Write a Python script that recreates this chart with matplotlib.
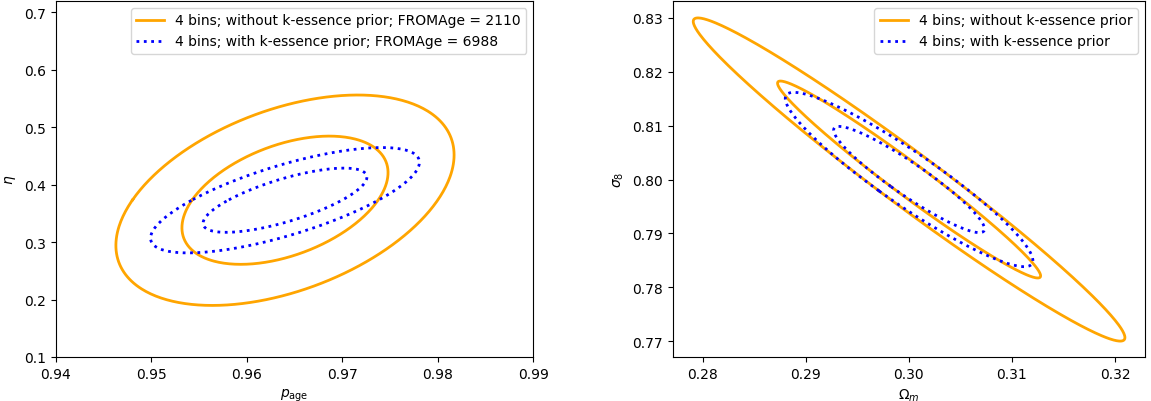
import numpy as np
import matplotlib
matplotlib.use("Agg")
import matplotlib.pyplot as plt

# Fisher-forecast style contours: centre, sigmas and correlation per series
levels = [1.515, 2.486]  # sqrt of chi2 (2 dof) for 68% and 95%

left_center = [0.964, 0.373]
left_without = dict(sx=0.00712, sy=0.0737, rho=0.43)
left_with = dict(sx=0.00566, sy=0.0369, rho=0.72)

right_center = [0.30003, 0.8000]
right_without = dict(sx=0.00842, sy=0.01205, rho=-0.978)
right_with = dict(sx=0.00483, sy=0.0065, rho=-0.93)

label_without_left = "4 bins; without k-essence prior; FROMAge = 2110"
label_with_left = "4 bins; with k-essence prior; FROMAge = 6988"
label_without_right = "4 bins; without k-essence prior"
label_with_right = "4 bins; with k-essence prior"


def ellipse_points(center, p, k, n=400):
    cov = np.array([[p["sx"] ** 2, p["rho"] * p["sx"] * p["sy"]],
                    [p["rho"] * p["sx"] * p["sy"], p["sy"] ** 2]])
    vals, vecs = np.linalg.eigh(cov)
    t = np.linspace(0, 2 * np.pi, n)
    circ = np.vstack([np.cos(t), np.sin(t)])
    pts = vecs @ (np.sqrt(vals)[:, None] * circ) * k
    return pts[0] + center[0], pts[1] + center[1]


def draw(ax, center, params, color, ls, label):
    for i, k in enumerate(levels):
        x, y = ellipse_points(center, params, k)
        ax.plot(x, y, color=color, linestyle=ls, linewidth=2,
                label=label if i == 0 else None)


fig = plt.figure(figsize=(11.51, 4.02), dpi=100)
ax1 = fig.add_axes([0.0484, 0.1095, 0.415, 0.8856])
ax2 = fig.add_axes([0.5844, 0.1095, 0.4103, 0.8856])

draw(ax1, left_center, left_without, "orange", "-", label_without_left)
draw(ax1, left_center, left_with, "blue", ":", label_with_left)
ax1.set_xlim(0.94, 0.99)
ax1.set_ylim(0.1, 0.72)
ax1.set_xticks([0.94, 0.95, 0.96, 0.97, 0.98, 0.99])
ax1.set_yticks([0.1, 0.2, 0.3, 0.4, 0.5, 0.6, 0.7])
ax1.set_xlabel(r"$p_{\rm age}$")
ax1.set_ylabel(r"$\eta$")
ax1.legend(loc="upper right")

draw(ax2, right_center, right_without, "orange", "-", label_without_right)
draw(ax2, right_center, right_with, "blue", ":", label_with_right)
ax2.set_xlim(0.2771, 0.3229)
ax2.set_ylim(0.7671, 0.8331)
ax2.set_xticks([0.28, 0.29, 0.30, 0.31, 0.32])
ax2.set_yticks([0.77, 0.78, 0.79, 0.80, 0.81, 0.82, 0.83])
ax2.set_xticklabels(["0.28", "0.29", "0.30", "0.31", "0.32"])
ax2.set_yticklabels(["0.77", "0.78", "0.79", "0.80", "0.81", "0.82", "0.83"])
ax2.set_xlabel(r"$\Omega_m$")
ax2.set_ylabel(r"$\sigma_8$")
ax2.legend(loc="upper right")

fig.savefig("out.png", dpi=100)
